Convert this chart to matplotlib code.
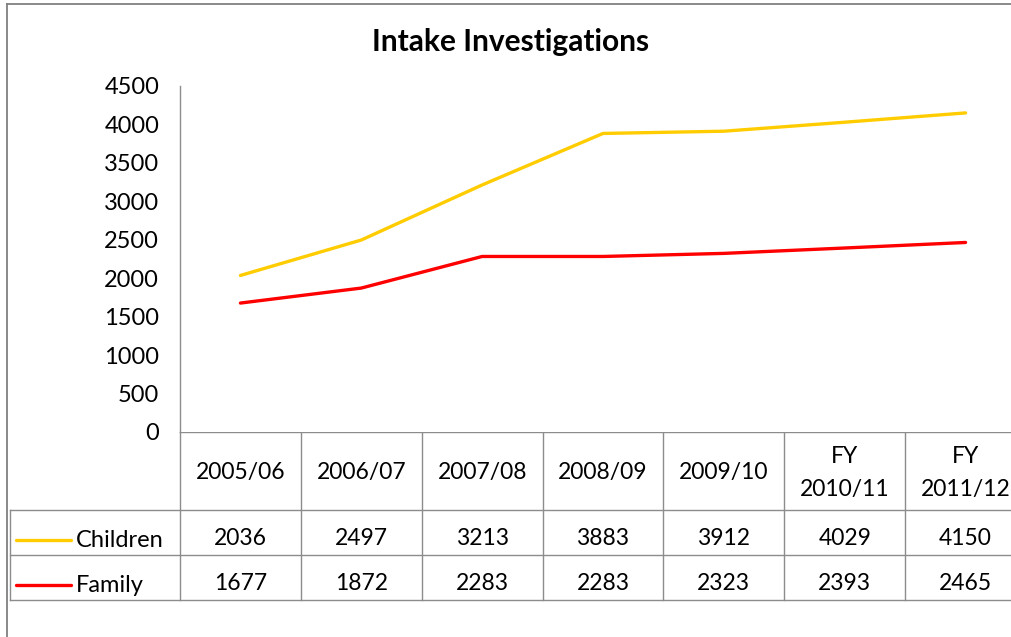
import numpy as np
import matplotlib
matplotlib.use('Agg')
import matplotlib.pyplot as plt

plt.rcParams['font.family'] = ['Lato', 'DejaVu Sans']

# data
categories = ['2005/06', '2006/07', '2007/08', '2008/09', '2009/10', 'FY\n2010/11', 'FY\n2011/12']
children = [2036, 2497, 3213, 3883, 3912, 4029, 4150]
family = [1677, 1872, 2283, 2283, 2323, 2393, 2465]
series_names = ['Children', 'Family']
yticks = np.arange(0, 4501, 500)

W, H = 1011, 637
grid_col = '#8c8c8c'
col_children = '#FFCC00'
col_family = '#FF0000'

def box(l, t, r, b):
    # pixel box (left, top, right, bottom) -> figure fraction rect
    return [l / W, 1 - b / H, (r - l) / W, (b - t) / H]

fig = plt.figure(figsize=(W / 100, H / 100), dpi=100)
fig.patch.set_facecolor('white')

# main plot area (last column runs off the right edge, as in the original)
ax = fig.add_axes(box(180, 86, 1026, 432))
x = np.arange(len(categories))
ax.plot(x, children, color=col_children, lw=2.4, solid_capstyle='round')
ax.plot(x, family, color=col_family, lw=2.4, solid_capstyle='round')
ax.set_xlim(-0.5, len(categories) - 0.5)
ax.set_ylim(0, 4500)
ax.set_yticks(yticks)
ax.set_yticklabels([str(v) for v in yticks], fontsize=17)
ax.set_xticks([])
ax.tick_params(axis='y', length=0, pad=15)
for s in ['top', 'right', 'bottom']:
    ax.spines[s].set_visible(False)
ax.spines['left'].set_color(grid_col)
ax.spines['left'].set_linewidth(1)

# overlay in pixel coordinates for the data table, frame and title
ov = fig.add_axes([0, 0, 1, 1], zorder=-1)
ov.set_xlim(0, W)
ov.set_ylim(H, 0)
ov.axis('off')

fig.canvas.draw()
def xpix(v):
    return ax.transData.transform((v, 0))[0]

edges = [xpix(i - 0.5) for i in range(len(categories) + 1)]
centers = [xpix(i) for i in range(len(categories))]

y_head, y_r1, y_r2, y_r3 = 432, 510, 555, 600
left_tab = 10
right_end = W + 20
lkw = dict(color=grid_col, lw=1)

ov.plot([edges[0], right_end], [y_head, y_head], **lkw)
for yy in (y_r1, y_r2, y_r3):
    ov.plot([left_tab, right_end], [yy, yy], **lkw)
for e in edges:
    ov.plot([e, e], [y_head, y_r3], **lkw)
ov.plot([left_tab, left_tab], [y_r1, y_r3], **lkw)

# chart frame
ov.plot([7, 7], [4, H + 5], color='#808080', lw=1.3)
ov.plot([7, W + 5], [4, 4], color='#808080', lw=1.3)

# header labels
for cx, lab in zip(centers, categories):
    ov.text(cx, (y_head + y_r1) / 2 + 2, lab, ha='center', va='center',
            fontsize=16.5, linespacing=1.65)

# rows
rows = [(series_names[0], children, col_children), (series_names[1], family, col_family)]
for (name, vals, c), (t, b) in zip(rows, [(y_r1, y_r2), (y_r2, y_r3)]):
    cy = (t + b) / 2 + 6
    ov.plot([16, 71], [cy + 1, cy + 1], color=c, lw=2.4, solid_capstyle='round')
    ov.text(76, cy + 2, name, ha='left', va='center', fontsize=17)
    for cx, v in zip(centers, vals):
        ov.text(cx, cy, str(v), ha='center', va='center', fontsize=16.5)

ov.text(511, 42, 'Intake Investigations', ha='center', va='center',
        fontsize=21.5, fontweight='bold')

fig.savefig('out.png', dpi=100)
